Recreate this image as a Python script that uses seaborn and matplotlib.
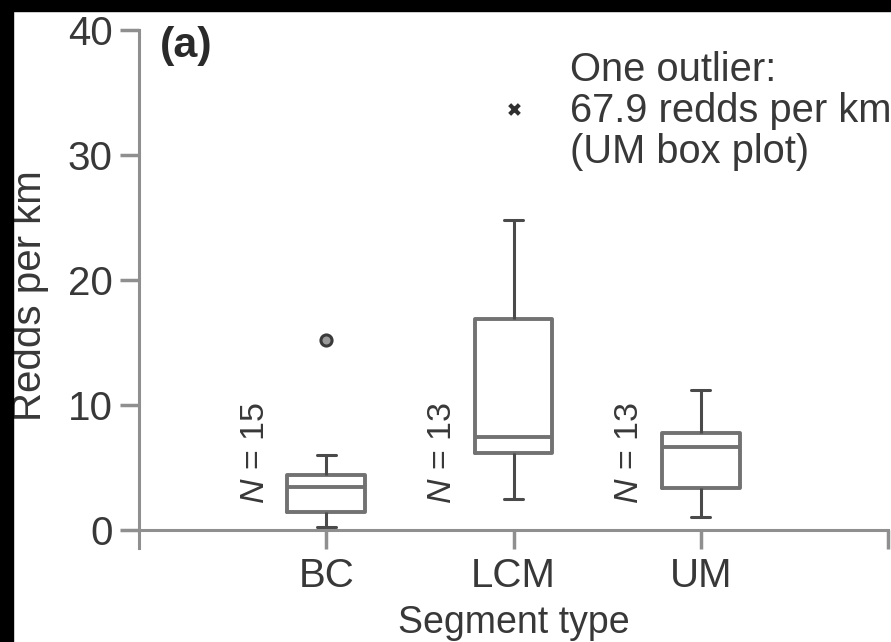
import numpy as np
import pandas as pd
import matplotlib
matplotlib.use('Agg')
import matplotlib.pyplot as plt
import seaborn as sns
from matplotlib.patches import Rectangle

# ---- data ----
segments = ['BC', 'LCM', 'UM']
whisker_low = [0.3, 2.5, 1.1]
q1 = [1.5, 6.2, 3.4]
median = [3.5, 7.5, 6.7]
q3 = [4.4, 16.9, 7.8]
whisker_high = [6.0, 24.8, 11.2]
n_obs = [15, 13, 13]
outlier_segments = ['BC']
outlier_values = [15.2]
extreme_segments = ['LCM']
extreme_values = [33.7]
y_ticks = [0, 10, 20, 30, 40]
note_lines = ['One outlier:', '67.9 redds per km', '(UM box plot)']
panel_label = '(a)'
x_title = 'Segment type'
y_title = 'Redds per km'

sns.set_theme(style='ticks')
plt.rcParams['font.family'] = ['Liberation Sans', 'DejaVu Sans']
plt.rcParams['mathtext.fontset'] = 'custom'
plt.rcParams['mathtext.it'] = 'Liberation Sans:italic'
plt.rcParams['mathtext.rm'] = 'Liberation Sans'

TXT = '#383838'
AX = '#8f8f8f'
BOX = '#727272'
WHI = '#4a4a4a'
FS_TICK = 29
FS_NOTE = 28.7
FS_YLAB = 29
FS_XLAB = 27
FS_N = 24.5
FS_PANEL = 31

rows = []
for s, a, b, c, d, e in zip(segments, whisker_low, q1, median, q3, whisker_high):
    for v in (a, b, c, d, e):
        rows.append({'segment': s, 'value': v})
df = pd.DataFrame(rows)

fig = plt.figure(figsize=(8.91, 6.42), dpi=100)
fig.patch.set_facecolor('white')
ax = fig.add_axes([139 / 891, 1 - 548 / 642, (888 - 139) / 891, (548 - 30) / 642])
ax.set_facecolor('white')

sns.boxplot(data=df, x='segment', y='value', order=segments, whis=(0, 100),
            fill=False, color=BOX, linewidth=2.8, width=0.415, showfliers=False,
            capwidths=0.1,
            whiskerprops={'color': WHI, 'linewidth': 2.2},
            capprops={'color': WHI, 'linewidth': 2.2},
            ax=ax)

odf = pd.DataFrame({'segment': outlier_segments, 'value': outlier_values})
sns.stripplot(data=odf, x='segment', y='value', order=segments, jitter=False,
              marker='o', s=8, color='#9a9a9a', edgecolor='#3a3a3a', linewidth=2.2,
              ax=ax, zorder=5)
edf = pd.DataFrame({'segment': extreme_segments, 'value': extreme_values})
sns.stripplot(data=edf, x='segment', y='value', order=segments, jitter=False,
              marker='x', s=7, color='#303030', linewidth=3,
              ax=ax, zorder=5)

# N labels
for i, n in enumerate(n_obs):
    ax.text(i - 0.38, 6.2, f'$N$ = {n}', rotation=90, ha='center', va='center',
            fontsize=FS_N, color=TXT)

ax.text(-0.89, 38.7, panel_label, ha='left', va='center', fontsize=FS_PANEL,
        fontweight='bold', color='#2a2a2a')
ax.text(1.30, 33.5, '\n'.join(note_lines), ha='left', va='center', fontsize=FS_NOTE,
        color=TXT, linespacing=1.1)

ax.set_xlim(-1, 3)
ax.set_ylim(-1.4, 40)
ax.set_yticks(y_ticks)
ax.set_xticks([0, 1, 2, 3])
ax.set_xticklabels(segments + [''])

for side in ('top', 'right'):
    ax.spines[side].set_visible(False)
ax.spines['bottom'].set_position(('data', 0))
for side in ('left', 'bottom'):
    ax.spines[side].set_color(AX)
    ax.spines[side].set_linewidth(2.2)

ax.tick_params(axis='both', direction='out', length=14, width=2.5, color=AX,
               labelsize=FS_TICK, labelcolor=TXT, pad=5)
ax.set_xlabel(x_title, fontsize=FS_XLAB, color=TXT, labelpad=7)
ax.set_ylabel(y_title, fontsize=FS_YLAB, color=TXT)
ax.yaxis.set_label_coords(-0.12, 0.487)

fig.add_artist(Rectangle((0, 1 - 11 / 642), 1, 11 / 642, transform=fig.transFigure,
                         color='black', zorder=20))
fig.add_artist(Rectangle((0, 0), 13 / 891, 1, transform=fig.transFigure,
                         color='black', zorder=20))

fig.savefig('out.png', dpi=100)
